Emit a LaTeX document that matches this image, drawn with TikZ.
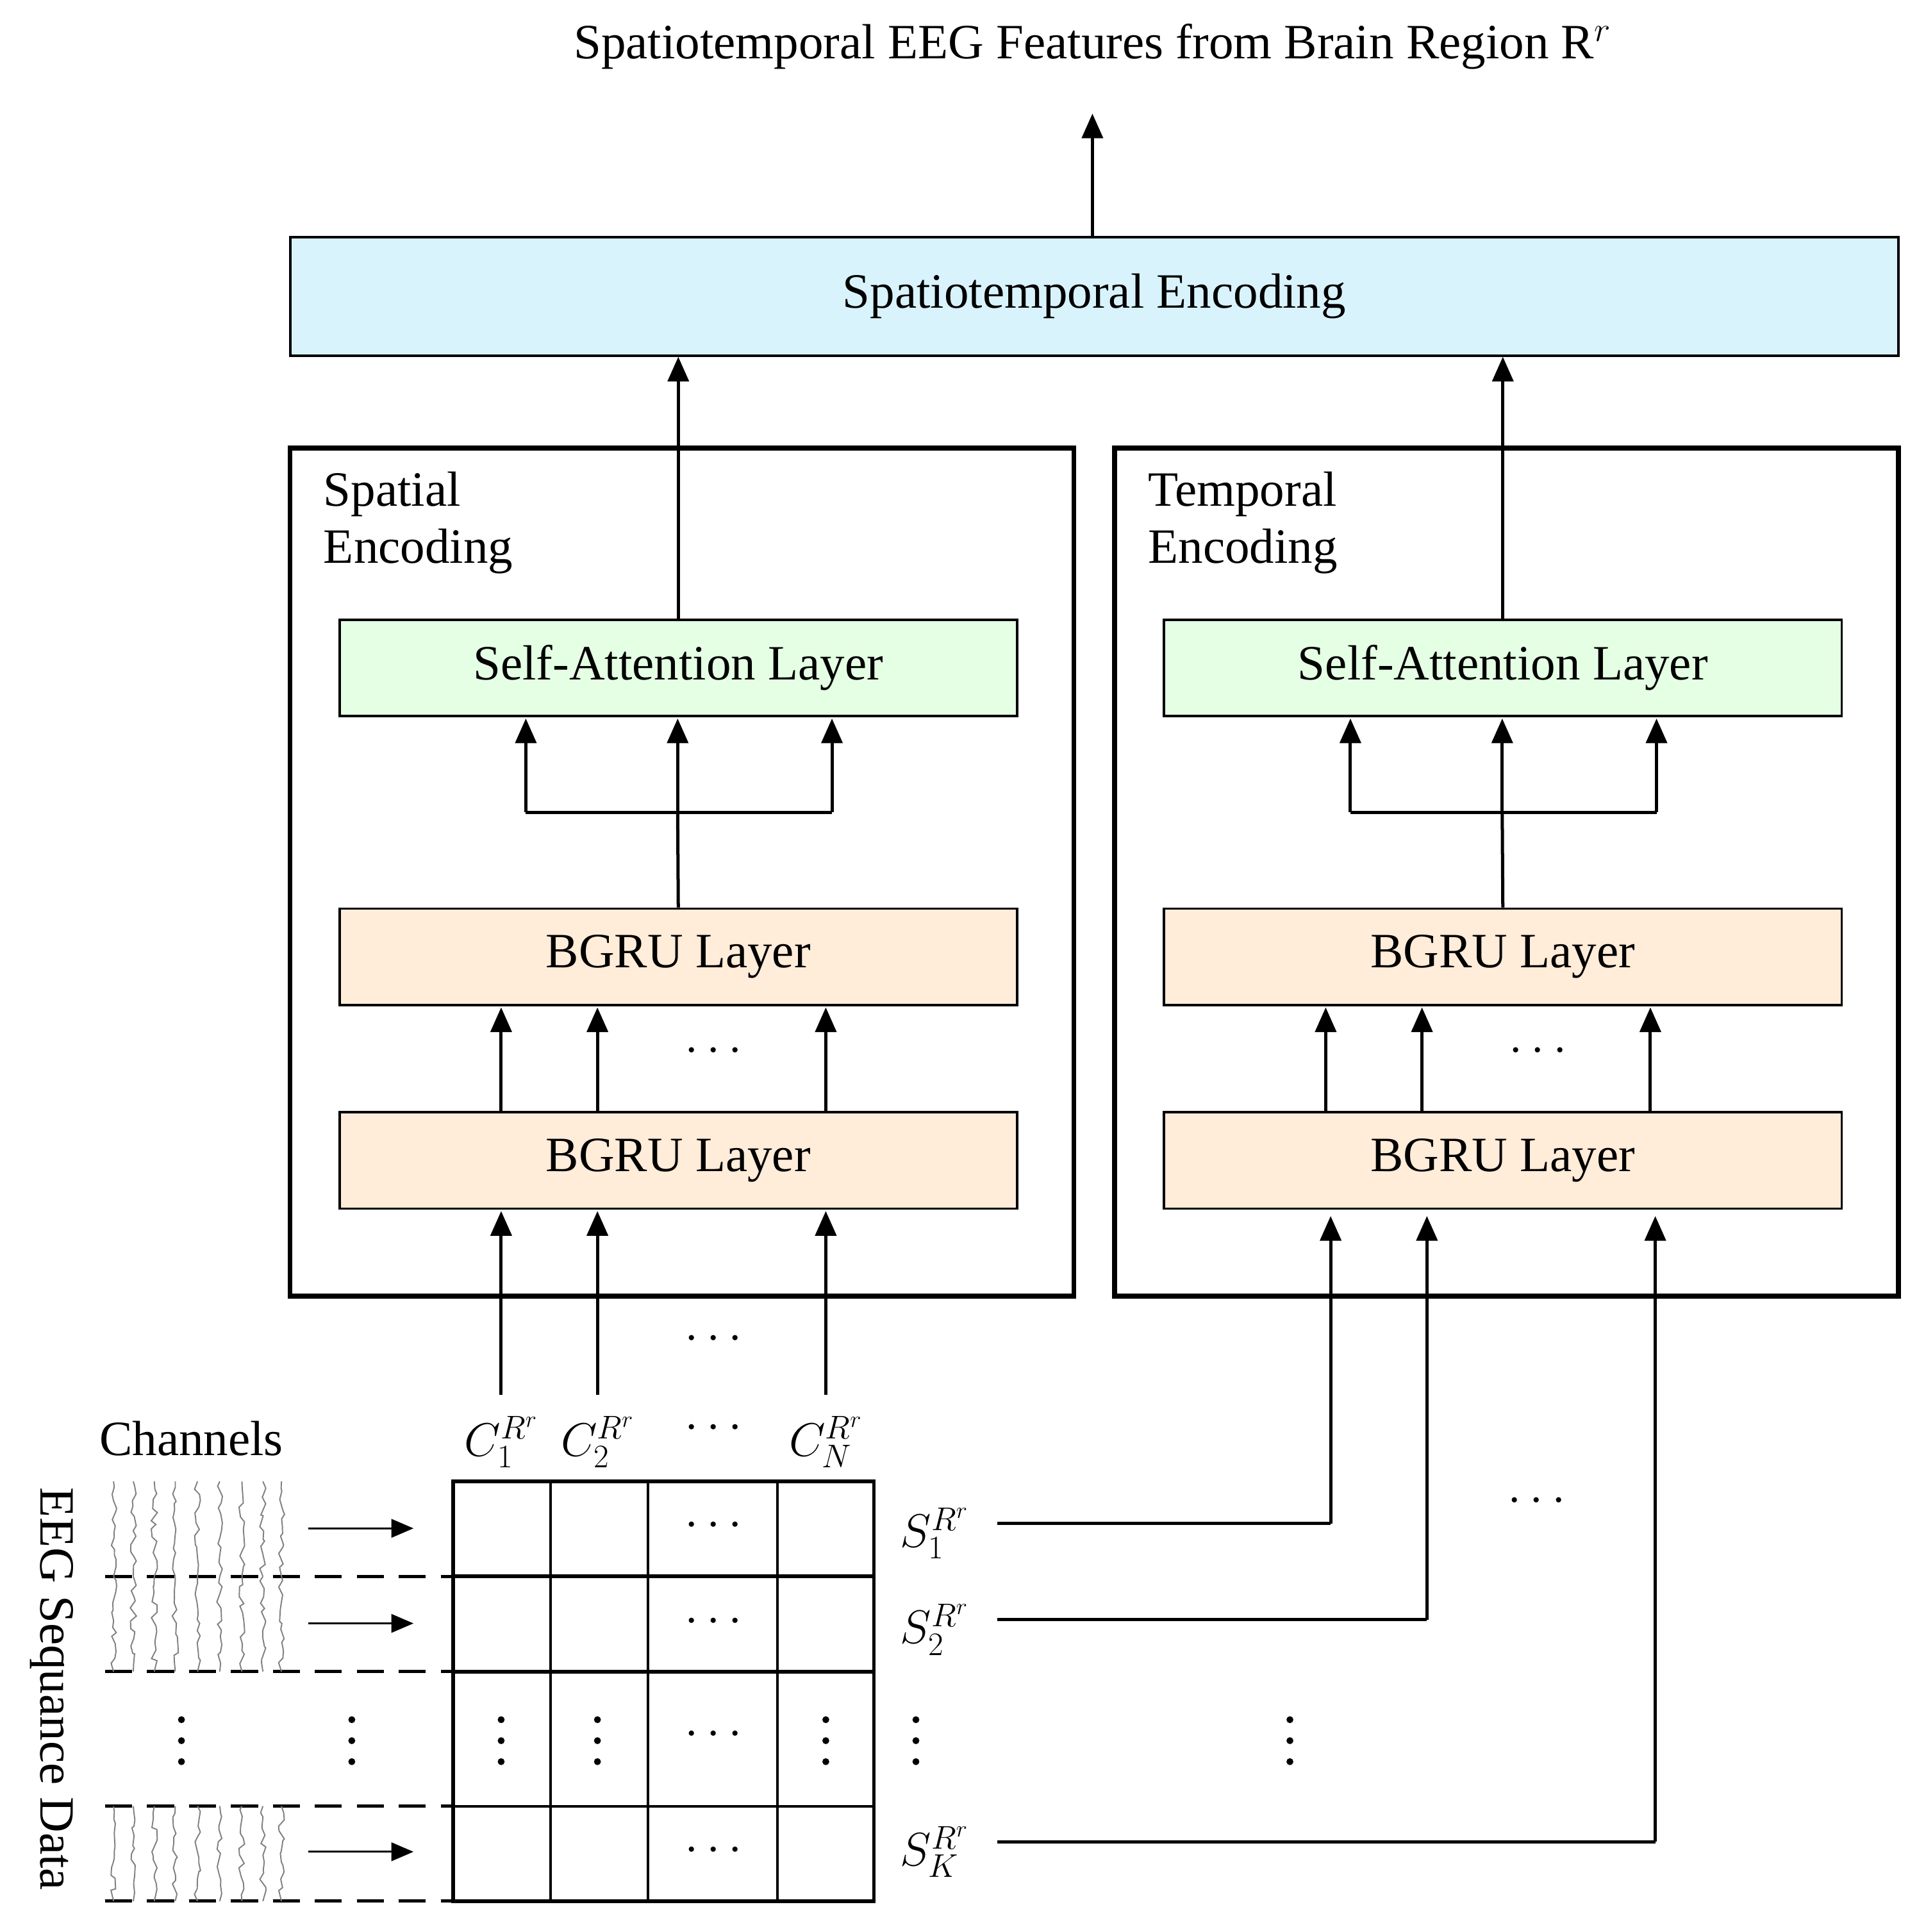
\RequirePackage{fix-cm}
\documentclass[tikz,border=0pt]{standalone}
\usepackage{fontspec}
\setmainfont{Liberation Serif}
\usetikzlibrary{arrows.meta,decorations.pathmorphing}
\begin{document}
\begin{tikzpicture}[x=1pt,y=-1pt,
  txt/.style={font=\fontsize{40}{46}\selectfont},
  blk/.style={draw,line width=2pt,txt},
  arr/.style={line width=2.6pt,-{Triangle[length=20pt,width=17pt]}},
  sarr/.style={line width=1.6pt,-{Triangle[length=18pt,width=15pt]}},
  frame/.style={draw,line width=4pt},
  dsh/.style={line width=2.6pt,dash pattern=on 22pt off 12pt},
  wave/.style={gray,line width=1pt,decorate,decoration={random steps,segment length=5pt,amplitude=2.5pt}},
  lbl/.style={font=\fontsize{38}{42}\selectfont}]
\useasboundingbox (0,0) rectangle (1560,1565);
\node[txt,anchor=center] (title) at (885,38) {Spatiotemporal EEG Features from Brain Region R$^{r}$};
\node[blk,fill=cyan!15!white,minimum width=1303pt,minimum height=96pt] (st) at (886.5,240) {Spatiotemporal Encoding};
\coordinate (tt) at (885,92);
\draw[arr] (st.north -| tt) -- (tt);
\foreach \n/\ox/\name in {L/0/Spatial,R/668/Temporal}{
  \begin{scope}[xshift=\ox]
  \draw[frame] (235,363) rectangle (870,1050);
  \node[txt,anchor=north west,align=left,inner sep=0pt] (lab\n) at (262,382) {\name\\Encoding};
  \node[blk,fill=green!10!white,minimum width=549pt,minimum height=78pt] (sa\n) at (549.5,541) {Self-Attention Layer};
  \node[blk,fill=orange!15!white,minimum width=549pt,minimum height=78pt] (bu\n) at (549.5,775) {BGRU Layer};
  \node[blk,fill=orange!15!white,minimum width=549pt,minimum height=78pt] (bl\n) at (549.5,940) {BGRU Layer};
  \coordinate (fk\n) at (549,658);
  \draw[line width=2.6pt] (bu\n.north) -- (fk\n);
  \draw[line width=2.6pt] (426,658) -- (674,658);
  \foreach \x in {426,549,674} \draw[arr] (\x,658) -- (\x,582);
  \foreach \x in {406,484,669} \draw[arr] (\x,901) -- (\x,816);
  \node[txt] (d\n) at (578,852) {$\cdots$};
  \draw[arr] (sa\n.north) -- (sa\n.north |- st.south);
  \end{scope}
}
\foreach \x/\i/\s in {406/1/1,484/2/2,669/3/N}{
  \node[lbl] (c\i) at (\x,1168) {$C_{\s}^{R^{r}}$};
  \draw[arr] (\x,1130) -- (\x,981);
}
\node[txt] (dc) at (578,1085) {$\cdots$};
\node[txt] (dc2) at (578,1157) {$\cdots$};
\draw[line width=2pt] (446,1200) -- (446,1540) (525,1200) -- (525,1540) (630,1200) -- (630,1540);
\draw[line width=3pt] (367,1277) -- (708,1277) (367,1354) -- (708,1354);
\draw[line width=2pt] (367,1463) -- (708,1463);
\draw[line width=3pt] (367,1200) rectangle (708,1540);
\foreach \y in {1236,1314,1499} \node[txt] at (578,\y) {$\cdots$};
\node[txt] at (578,1405) {$\cdots$};
\foreach \x in {406,484,669,742,147,285,1045}
  \foreach \dy in {-17,0,17} \fill (\x,1410+\dy) circle (2.8pt);
\foreach \y in {1277,1354,1463,1540} \draw[dsh] (85,\y) -- (367,\y);
\pgfmathsetseed{7}
\foreach \ya/\yb in {1200/1277,1277/1354,1463/1540}
  \foreach \x in {92,108,125,142,160,178,196,213,228}
    \draw[wave] (\x,\ya) -- (\x,\yb);
\foreach \y in {1238,1315,1500} \draw[sarr] (250,\y) -- (335,\y);
\node[txt] (ch) at (155,1165) {Channels};
\node[txt,rotate=-90] (eeg) at (42,1368) {EEG Sequance Data};
\foreach \y/\s/\x/\i in {1242/1/1078/1,1320/2/1156/2,1500/K/1341/3}{
  \node[lbl] (s\i) at (757,\y) {$S_{\s}^{R^{r}}$};
  \coordinate (k\i) at (\x,\y-8);
  \draw[line width=2.6pt] (808,\y-8) -- (k\i);
  \draw[arr] (k\i) -- (\x,985);
}
\node[txt] (ds) at (1245,1216) {$\cdots$};
\end{tikzpicture}
\end{document}
